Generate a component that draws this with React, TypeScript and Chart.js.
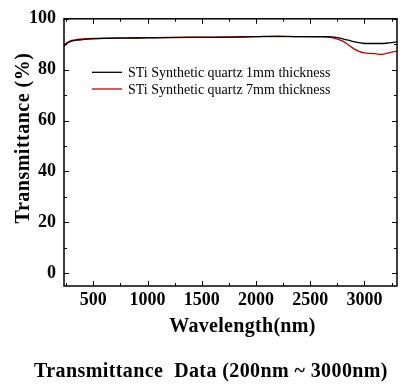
import React, { useEffect, useRef } from "react";
import { Chart, registerables } from "chart.js";

Chart.register(...registerables);

const wavelengths = [230, 250, 275, 300, 350, 400, 500, 600, 800, 1000, 1200, 1500, 1800, 2000, 2200, 2400, 2600, 2700, 2750, 2800, 2850, 2900, 2950, 3000, 3050, 3100, 3150, 3200, 3250, 3300];
const t1mm = [89.3, 90.2, 90.8, 91.2, 91.6, 91.8, 92.1, 92.3, 92.4, 92.5, 92.6, 92.7, 92.8, 93.0, 93.2, 93.0, 93.0, 92.9, 92.6, 92.1, 91.6, 91.0, 90.6, 90.3, 90.3, 90.3, 90.3, 90.4, 90.6, 90.9];
const t7mm = [89.0, 90.3, 91.0, 91.5, 91.9, 92.1, 92.3, 92.4, 92.5, 92.6, 92.7, 92.8, 92.9, 93.0, 93.0, 93.0, 92.9, 92.6, 92.0, 91.2, 89.8, 88.3, 87.2, 86.6, 86.4, 86.3, 86.0, 86.4, 86.9, 87.3];
const seriesLabels = ["STi Synthetic quartz 1mm thickness", "STi Synthetic quartz 7mm thickness"];
const seriesColors = ["#000000", "#cc0000"];
const xTicks = [500, 1000, 1500, 2000, 2500, 3000];
const xMinorTicks = [250, 750, 1250, 1750, 2250, 2750, 3250];
const yTicks = [0, 20, 40, 60, 80, 100];
const yMinorTicks = [10, 30, 50, 70, 90];
const xTitle = "Wavelength(nm)";
const yTitle = "Transmittance (%)";
const caption = "Transmittance  Data (200nm ~ 3000nm)";

const SERIF = "'Times New Roman', 'Liberation Serif', serif";

const decorPlugin = {
  id: "decor",
  afterDraw(chart: any) {
    const { ctx, chartArea } = chart;
    const { left, right, top, bottom } = chartArea;
    const xs = chart.scales.x;
    const ys = chart.scales.y;
    ctx.save();
    ctx.strokeStyle = "#000";
    ctx.lineWidth = 1.5;
    ctx.strokeRect(left, top, right - left, bottom - top);
    ctx.lineWidth = 1;
    const drawX = (vals: number[], len: number) => {
      vals.forEach((v) => {
        const px = Math.round(xs.getPixelForValue(v)) + 0.5;
        ctx.beginPath();
        ctx.moveTo(px, bottom);
        ctx.lineTo(px, bottom - len);
        ctx.moveTo(px, top);
        ctx.lineTo(px, top + len);
        ctx.stroke();
      });
    };
    const drawY = (vals: number[], len: number) => {
      vals.forEach((v) => {
        const py = Math.round(ys.getPixelForValue(v)) + 0.5;
        ctx.beginPath();
        ctx.moveTo(left, py);
        ctx.lineTo(left + len, py);
        ctx.moveTo(right, py);
        ctx.lineTo(right - len, py);
        ctx.stroke();
      });
    };
    drawX(xTicks, 5);
    drawX(xMinorTicks, 3);
    drawY(yTicks, 5);
    drawY(yMinorTicks, 3);

    // legend
    ctx.font = `14px ${SERIF}`;
    ctx.textBaseline = "alphabetic";
    ctx.textAlign = "left";
    chart.data.datasets.forEach((ds: any, i: number) => {
      const ly = top + 53.5 + i * 16.7;
      ctx.strokeStyle = ds.borderColor;
      ctx.lineWidth = 1.3;
      ctx.beginPath();
      ctx.moveTo(left + 28, ly);
      ctx.lineTo(left + 58, ly);
      ctx.stroke();
      ctx.fillStyle = "#000";
      ctx.fillText(ds.label, left + 64, ly + 5);
    });

    // axis titles & caption
    ctx.fillStyle = "#000";
    (ctx as any).letterSpacing = "0.3px";
    ctx.font = `bold 20px ${SERIF}`;
    ctx.textAlign = "center";
    ctx.fillText(xTitle, (left + right) / 2 + 12, bottom + 46);

    (ctx as any).letterSpacing = "0.5px";
    ctx.save();
    ctx.translate(29, 138);
    ctx.rotate(-Math.PI / 2);
    ctx.fillText(yTitle, 0, 0);
    ctx.restore();

    (ctx as any).letterSpacing = "0.4px";
    ctx.fillText(caption, 211, 376.5);
    ctx.restore();
  },
};

export default function App() {
  const ref = useRef<HTMLCanvasElement | null>(null);
  useEffect(() => {
    if (!ref.current) return;
    const chart = new Chart(ref.current, {
      type: "line",
      data: {
        datasets: [
          {
            label: seriesLabels[0],
            data: wavelengths.map((w, i) => ({ x: w, y: t1mm[i] })),
            borderColor: seriesColors[0],
            borderWidth: 1.3,
            pointRadius: 0,
            tension: 0.3,
            cubicInterpolationMode: "monotone",
          },
          {
            label: seriesLabels[1],
            data: wavelengths.map((w, i) => ({ x: w, y: t7mm[i] })),
            borderColor: seriesColors[1],
            borderWidth: 1.3,
            pointRadius: 0,
            tension: 0.3,
            cubicInterpolationMode: "monotone",
          },
        ],
      },
      options: {
        animation: false,
        responsive: true,
        maintainAspectRatio: false,
        layout: { padding: { left: 0, top: 16, right: 17, bottom: 0 } },
        plugins: { legend: { display: false }, tooltip: { enabled: false }, title: { display: false } },
        scales: {
          x: {
            type: "linear",
            min: 230,
            max: 3300,
            grid: { display: false, drawTicks: false },
            border: { display: false },
            ticks: {
              font: { family: SERIF, size: 18, weight: "bold" },
              color: "#000",
              padding: 4,
              callback: (v: any) => String(v),
            },
            afterBuildTicks: (s: any) => {
              s.ticks = xTicks.map((v) => ({ value: v }));
            },
            afterFit: (s: any) => {
              s.height = 103;
            },
          },
          y: {
            type: "linear",
            min: -5,
            max: 100,
            grid: { display: false, drawTicks: false },
            border: { display: false },
            ticks: {
              font: { family: SERIF, size: 18, weight: "bold" },
              color: "#000",
              padding: 8,
              callback: (v: any) => String(v),
            },
            afterBuildTicks: (s: any) => {
              s.ticks = yTicks.map((v) => ({ value: v }));
            },
            afterFit: (s: any) => {
              s.width = 64;
            },
          },
        },
      } as any,
      plugins: [decorPlugin],
    });
    return () => chart.destroy();
  }, []);
  return (
    <div style={{ position: "fixed", left: 0, top: 0, width: 414, height: 389, background: "#fff" }}>
      <canvas ref={ref} />
    </div>
  );
}
